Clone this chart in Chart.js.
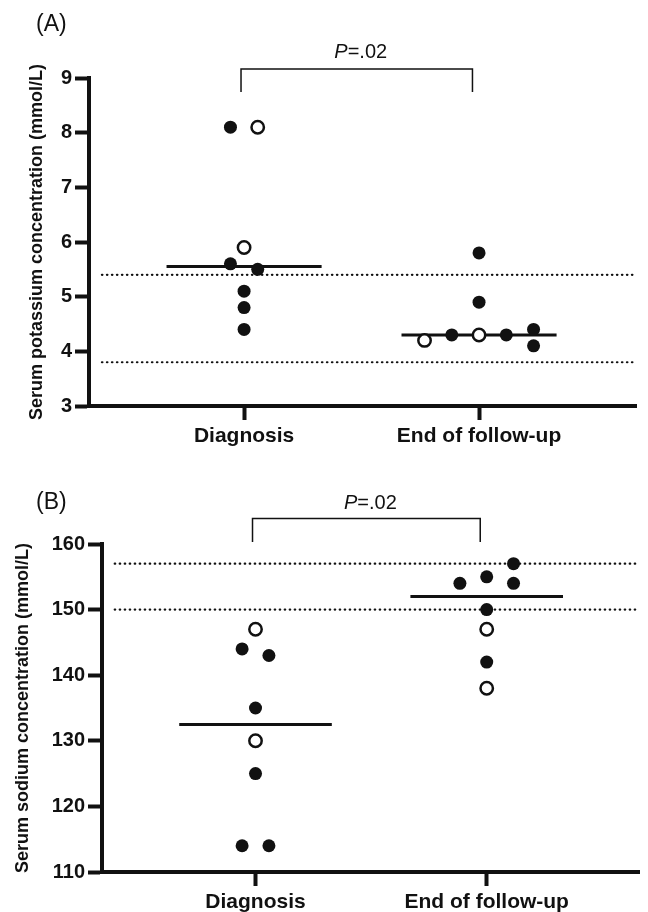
<!DOCTYPE html>
<html>
<head>
<meta charset="utf-8">
<script src="https://cdn.jsdelivr.net/npm/chart.js@4"></script>
<style>
  html, body { margin: 0; padding: 0; background: #fff; }
  #wrap { position: relative; width: 648px; height: 912px; overflow: hidden; }
  .panel { position: absolute; left: 0; width: 648px; height: 456px; }
</style>
</head>
<body>
<div id="wrap">
  <div class="panel" style="top:0"><canvas id="chartA" width="648" height="456"></canvas></div>
  <div class="panel" style="top:456px"><canvas id="chartB" width="648" height="456"></canvas></div>
</div>
<script>
const categories = ["Diagnosis", "End of follow-up"];

// (A) serum potassium, mmol/L
const kFilledDx = [8.1, 5.6, 5.5, 5.1, 4.8, 4.4];
const kOpenDx = [8.1, 5.9];
const kFilledEnd = [5.8, 4.9, 4.3, 4.3, 4.4, 4.1];
const kOpenEnd = [4.2, 4.3];
const kMedian = [5.55, 4.3];
const kRefRange = [3.8, 5.4];
const kTicks = [3, 4, 5, 6, 7, 8, 9];

// (B) serum sodium, mmol/L
const naFilledDx = [144, 143, 135, 125, 114, 114];
const naOpenDx = [147, 130];
const naFilledEnd = [157, 155, 154, 154, 150, 142];
const naOpenEnd = [147, 138];
const naMedian = [132.5, 152];
const naRefRange = [150, 157];
const naTicks = [110, 120, 130, 140, 150, 160];

const pText = ["P", "=.02"];

// horizontal spread of the dots around each category (in steps of JITTER)
const JITTER = 0.058;
const jitter = {
  kFilledDx: [-1, -1, 1, 0, 0, 0],
  kOpenDx: [1, 0],
  kFilledEnd: [0, 0, -2, 2, 4, 4],
  kOpenEnd: [-4, 0],
  naFilledDx: [-1, 1, 0, 0, -1, 1],
  naOpenDx: [0, 0],
  naFilledEnd: [2, 0, -2, 2, 0, 0],
  naOpenEnd: [0, 0]
};

const INK = "#111";
const FONT = "'Liberation Sans', Arial, Helvetica, sans-serif";

function pts(vals, jit, cat) {
  return vals.map((v, i) => ({ x: cat + jit[i] * JITTER, y: v }));
}

function lineSet(data, width, dash) {
  return {
    type: "line", data: data, showLine: true, pointRadius: 0,
    borderColor: INK, borderWidth: width, borderDash: dash || [],
    borderCapStyle: dash ? "round" : "butt", clip: false, order: 2
  };
}

function makePanel(id, p) {
  const filled = {
    data: pts(p.filledDx, p.jitFilledDx, 1).concat(pts(p.filledEnd, p.jitFilledEnd, 2)),
    pointRadius: 6.5, pointBackgroundColor: INK, pointBorderColor: INK, pointBorderWidth: 0,
    order: 0
  };
  const open = {
    data: pts(p.openDx, p.jitOpenDx, 1).concat(pts(p.openEnd, p.jitOpenEnd, 2)),
    pointRadius: 6.2, pointBackgroundColor: "#fff", pointBorderColor: INK, pointBorderWidth: 2.5,
    order: 0
  };
  const datasets = [filled, open];
  // medians
  datasets.push(lineSet([{ x: 1 - 0.33, y: p.median[0] }, { x: 1 + 0.33, y: p.median[0] }], 3));
  datasets.push(lineSet([{ x: 2 - 0.33, y: p.median[1] }, { x: 2 + 0.33, y: p.median[1] }], 3));
  // reference range
  p.range.forEach(r => {
    datasets.push(lineSet([{ x: p.xMin + 0.055, y: r }, { x: p.xMax, y: r }], 2.2, [0.5, 4.5]));
  });
  // comparison bracket
  datasets.push(lineSet([
    { x: 0.987, y: p.bracket[1] }, { x: 0.987, y: p.bracket[0] },
    { x: 1.972, y: p.bracket[0] }, { x: 1.972, y: p.bracket[1] }
  ], 1.5));

  const labels = {
    id: "labels",
    afterDraw(chart) {
      const ctx = chart.ctx;
      const xs = chart.scales.x, ys = chart.scales.y;
      ctx.save();
      ctx.fillStyle = INK;
      ctx.textBaseline = "middle";
      ctx.textAlign = "left";
      ctx.font = "23px " + FONT;
      ctx.fillText(p.letter, 36, p.letterY);
      const cx = (xs.getPixelForValue(0.987) + xs.getPixelForValue(1.972)) / 2 + 4;
      const cy = ys.getPixelForValue(p.pY);
      ctx.font = "italic 20px " + FONT;
      const w1 = ctx.measureText(pText[0]).width;
      ctx.font = "20px " + FONT;
      const w2 = ctx.measureText(pText[1]).width;
      let x0 = cx - (w1 + w2) / 2;
      ctx.font = "italic 20px " + FONT;
      ctx.fillText(pText[0], x0, cy);
      ctx.font = "20px " + FONT;
      ctx.fillText(pText[1], x0 + w1, cy);
      ctx.restore();
    }
  };

  return new Chart(document.getElementById(id), {
    type: "scatter",
    data: { datasets: datasets },
    options: {
      responsive: false,
      animation: false,
      devicePixelRatio: 1,
      layout: { padding: { top: p.padTop, right: p.padRight, left: 0, bottom: 0 } },
      plugins: { legend: { display: false }, tooltip: { enabled: false } },
      scales: {
        x: {
          type: "linear", min: p.xMin, max: p.xMax,
          afterBuildTicks: s => { s.ticks = categories.map((c, i) => ({ value: i + 1 })); },
          afterFit: s => { s.height = p.xHeight; },
          ticks: {
            autoSkip: false, maxRotation: 0, padding: 4, color: INK,
            font: { family: FONT, size: 21, weight: "bold" },
            callback: v => categories[v - 1]
          },
          grid: { drawOnChartArea: false, drawTicks: true, tickLength: 14, tickWidth: 4, color: INK },
          border: { display: true, width: 4, color: INK }
        },
        y: {
          min: p.ticks[0], max: p.ticks[p.ticks.length - 1],
          afterBuildTicks: s => { s.ticks = p.ticks.map(v => ({ value: v })); },
          afterFit: s => { s.width = p.yWidth; },
          ticks: {
            padding: 3, color: INK,
            font: { family: FONT, size: 20, weight: "bold" }
          },
          grid: { drawOnChartArea: false, drawTicks: true, tickLength: 14, tickWidth: 4, color: INK },
          border: { display: true, width: 4, color: INK },
          title: {
            display: true, text: p.title, color: INK,
            padding: { top: p.titlePad, bottom: 0 },
            font: { family: FONT, size: 18, weight: "bold" }
          }
        }
      }
    },
    plugins: [labels]
  });
}

makePanel("chartA", {
  letter: "(A)", letterY: 25, pY: 9.46, bracket: [9.165, 8.745],
  title: "Serum potassium concentration (mmol/L)", titlePad: 26,
  filledDx: kFilledDx, openDx: kOpenDx, filledEnd: kFilledEnd, openEnd: kOpenEnd,
  jitFilledDx: jitter.kFilledDx, jitOpenDx: jitter.kOpenDx,
  jitFilledEnd: jitter.kFilledEnd, jitOpenEnd: jitter.kOpenEnd,
  median: kMedian, range: kRefRange, ticks: kTicks,
  xMin: 0.34, xMax: 2.668, padTop: 78, padRight: 12, yWidth: 89, xHeight: 50
});

makePanel("chartB", {
  letter: "(B)", letterY: 47, pY: 166.2, bracket: [163.9, 160.3],
  title: "Serum sodium concentration (mmol/L)", titlePad: 12,
  filledDx: naFilledDx, openDx: naOpenDx, filledEnd: naFilledEnd, openEnd: naOpenEnd,
  jitFilledDx: jitter.naFilledDx, jitOpenDx: jitter.naOpenDx,
  jitFilledEnd: jitter.naFilledEnd, jitOpenEnd: jitter.naOpenEnd,
  median: naMedian, range: naRefRange, ticks: naTicks,
  xMin: 0.336, xMax: 2.66, padTop: 88, padRight: 0, yWidth: 102, xHeight: 40
});
</script>
</body>
</html>
